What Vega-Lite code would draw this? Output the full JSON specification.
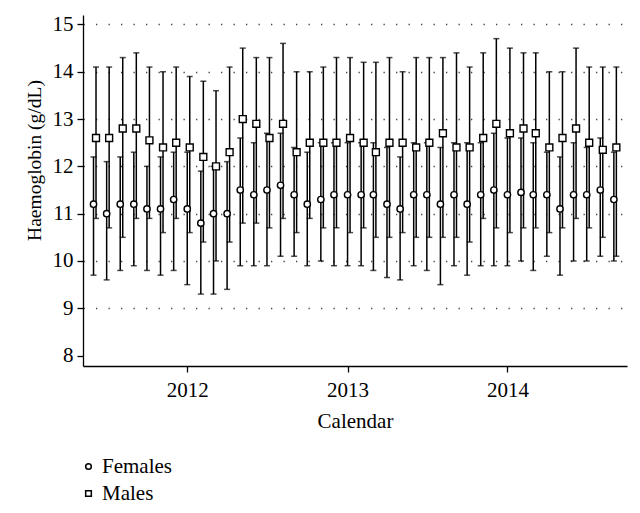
{
  "$schema": "https://vega.github.io/schema/vega-lite/v6.json",
  "width": 544,
  "height": 351,
  "autosize": "none",
  "padding": {"left": 83, "top": 15, "right": 13, "bottom": 147},
  "background": "white",
  "config": {
    "view": {"stroke": null},
    "font": "Liberation Serif",
    "axis": {
      "labelFont": "Liberation Serif",
      "titleFont": "Liberation Serif",
      "labelColor": "black",
      "titleColor": "black",
      "domainColor": "black",
      "tickColor": "black",
      "domainWidth": 1.3,
      "tickWidth": 1.3,
      "tickSize": 6,
      "labelFontSize": 21,
      "titleFontSize": 21,
      "titleFontWeight": "normal"
    },
    "legend": {
      "labelFont": "Liberation Serif",
      "labelFontSize": 21,
      "labelColor": "black"
    }
  },
  "data": {
    "values": [
      {"date": "2011-06-01", "sex": "Females", "mean": 11.2, "lo": 9.7, "hi": 12.2},
      {"date": "2011-07-01", "sex": "Females", "mean": 11.0, "lo": 9.6, "hi": 12.1},
      {"date": "2011-08-01", "sex": "Females", "mean": 11.2, "lo": 9.8, "hi": 12.2},
      {"date": "2011-09-01", "sex": "Females", "mean": 11.2, "lo": 9.9, "hi": 12.3},
      {"date": "2011-10-01", "sex": "Females", "mean": 11.1, "lo": 9.8, "hi": 12.0},
      {"date": "2011-11-01", "sex": "Females", "mean": 11.1, "lo": 9.7, "hi": 12.2},
      {"date": "2011-12-01", "sex": "Females", "mean": 11.3, "lo": 9.8, "hi": 12.3},
      {"date": "2012-01-01", "sex": "Females", "mean": 11.1, "lo": 9.5, "hi": 12.3},
      {"date": "2012-02-01", "sex": "Females", "mean": 10.8, "lo": 9.3, "hi": 11.9},
      {"date": "2012-03-01", "sex": "Females", "mean": 11.0, "lo": 9.3, "hi": 12.0},
      {"date": "2012-04-01", "sex": "Females", "mean": 11.0, "lo": 9.4, "hi": 12.1},
      {"date": "2012-05-01", "sex": "Females", "mean": 11.5, "lo": 9.9, "hi": 12.6},
      {"date": "2012-06-01", "sex": "Females", "mean": 11.4, "lo": 9.9, "hi": 12.5},
      {"date": "2012-07-01", "sex": "Females", "mean": 11.5, "lo": 9.9, "hi": 12.7},
      {"date": "2012-08-01", "sex": "Females", "mean": 11.6, "lo": 10.1, "hi": 12.7},
      {"date": "2012-09-01", "sex": "Females", "mean": 11.4, "lo": 10.1, "hi": 12.4},
      {"date": "2012-10-01", "sex": "Females", "mean": 11.2, "lo": 9.9, "hi": 12.3},
      {"date": "2012-11-01", "sex": "Females", "mean": 11.3, "lo": 10.0, "hi": 12.5},
      {"date": "2012-12-01", "sex": "Females", "mean": 11.4, "lo": 9.9, "hi": 12.5},
      {"date": "2013-01-01", "sex": "Females", "mean": 11.4, "lo": 9.9, "hi": 12.5},
      {"date": "2013-02-01", "sex": "Females", "mean": 11.4, "lo": 9.9, "hi": 12.5},
      {"date": "2013-03-01", "sex": "Females", "mean": 11.4, "lo": 9.8, "hi": 12.5},
      {"date": "2013-04-01", "sex": "Females", "mean": 11.2, "lo": 9.65, "hi": 12.4},
      {"date": "2013-05-01", "sex": "Females", "mean": 11.1, "lo": 9.6, "hi": 12.2},
      {"date": "2013-06-01", "sex": "Females", "mean": 11.4, "lo": 9.9, "hi": 12.5},
      {"date": "2013-07-01", "sex": "Females", "mean": 11.4, "lo": 9.8, "hi": 12.5},
      {"date": "2013-08-01", "sex": "Females", "mean": 11.2, "lo": 9.5, "hi": 12.4},
      {"date": "2013-09-01", "sex": "Females", "mean": 11.4, "lo": 9.9, "hi": 12.5},
      {"date": "2013-10-01", "sex": "Females", "mean": 11.2, "lo": 9.7, "hi": 12.5},
      {"date": "2013-11-01", "sex": "Females", "mean": 11.4, "lo": 9.9, "hi": 12.5},
      {"date": "2013-12-01", "sex": "Females", "mean": 11.5, "lo": 9.9, "hi": 12.7},
      {"date": "2014-01-01", "sex": "Females", "mean": 11.4, "lo": 9.9, "hi": 12.6},
      {"date": "2014-02-01", "sex": "Females", "mean": 11.45, "lo": 10.0, "hi": 12.6},
      {"date": "2014-03-01", "sex": "Females", "mean": 11.4, "lo": 9.8, "hi": 12.5},
      {"date": "2014-04-01", "sex": "Females", "mean": 11.4, "lo": 10.1, "hi": 12.3},
      {"date": "2014-05-01", "sex": "Females", "mean": 11.1, "lo": 9.7, "hi": 12.2},
      {"date": "2014-06-01", "sex": "Females", "mean": 11.4, "lo": 10.0, "hi": 12.5},
      {"date": "2014-07-01", "sex": "Females", "mean": 11.4, "lo": 10.0, "hi": 12.4},
      {"date": "2014-08-01", "sex": "Females", "mean": 11.5, "lo": 10.1, "hi": 12.6},
      {"date": "2014-09-01", "sex": "Females", "mean": 11.3, "lo": 10.0, "hi": 12.3},
      {"date": "2011-06-01", "sex": "Males", "mean": 12.6, "lo": 10.9, "hi": 14.1},
      {"date": "2011-07-01", "sex": "Males", "mean": 12.6, "lo": 10.7, "hi": 14.1},
      {"date": "2011-08-01", "sex": "Males", "mean": 12.8, "lo": 10.5, "hi": 14.3},
      {"date": "2011-09-01", "sex": "Males", "mean": 12.8, "lo": 10.9, "hi": 14.4},
      {"date": "2011-10-01", "sex": "Males", "mean": 12.55, "lo": 10.9, "hi": 14.1},
      {"date": "2011-11-01", "sex": "Males", "mean": 12.4, "lo": 10.6, "hi": 14.0},
      {"date": "2011-12-01", "sex": "Males", "mean": 12.5, "lo": 10.9, "hi": 14.1},
      {"date": "2012-01-01", "sex": "Males", "mean": 12.4, "lo": 10.6, "hi": 13.9},
      {"date": "2012-02-01", "sex": "Males", "mean": 12.2, "lo": 10.4, "hi": 13.8},
      {"date": "2012-03-01", "sex": "Males", "mean": 12.0, "lo": 10.0, "hi": 13.6},
      {"date": "2012-04-01", "sex": "Males", "mean": 12.3, "lo": 10.4, "hi": 14.1},
      {"date": "2012-05-01", "sex": "Males", "mean": 13.0, "lo": 10.8, "hi": 14.5},
      {"date": "2012-06-01", "sex": "Males", "mean": 12.9, "lo": 10.8, "hi": 14.3},
      {"date": "2012-07-01", "sex": "Males", "mean": 12.6, "lo": 10.7, "hi": 14.3},
      {"date": "2012-08-01", "sex": "Males", "mean": 12.9, "lo": 10.9, "hi": 14.6},
      {"date": "2012-09-01", "sex": "Males", "mean": 12.3, "lo": 10.6, "hi": 14.0},
      {"date": "2012-10-01", "sex": "Males", "mean": 12.5, "lo": 10.9, "hi": 14.0},
      {"date": "2012-11-01", "sex": "Males", "mean": 12.5, "lo": 10.7, "hi": 14.1},
      {"date": "2012-12-01", "sex": "Males", "mean": 12.5, "lo": 10.7, "hi": 14.3},
      {"date": "2013-01-01", "sex": "Males", "mean": 12.6, "lo": 10.6, "hi": 14.3},
      {"date": "2013-02-01", "sex": "Males", "mean": 12.5, "lo": 10.7, "hi": 14.2},
      {"date": "2013-03-01", "sex": "Males", "mean": 12.3, "lo": 10.5, "hi": 14.2},
      {"date": "2013-04-01", "sex": "Males", "mean": 12.5, "lo": 10.5, "hi": 14.3},
      {"date": "2013-05-01", "sex": "Males", "mean": 12.5, "lo": 10.6, "hi": 14.0},
      {"date": "2013-06-01", "sex": "Males", "mean": 12.4, "lo": 10.5, "hi": 14.3},
      {"date": "2013-07-01", "sex": "Males", "mean": 12.5, "lo": 10.5, "hi": 14.3},
      {"date": "2013-08-01", "sex": "Males", "mean": 12.7, "lo": 10.5, "hi": 14.3},
      {"date": "2013-09-01", "sex": "Males", "mean": 12.4, "lo": 10.5, "hi": 14.4},
      {"date": "2013-10-01", "sex": "Males", "mean": 12.4, "lo": 10.4, "hi": 14.1},
      {"date": "2013-11-01", "sex": "Males", "mean": 12.6, "lo": 10.9, "hi": 14.4},
      {"date": "2013-12-01", "sex": "Males", "mean": 12.9, "lo": 10.7, "hi": 14.7},
      {"date": "2014-01-01", "sex": "Males", "mean": 12.7, "lo": 10.6, "hi": 14.5},
      {"date": "2014-02-01", "sex": "Males", "mean": 12.8, "lo": 10.7, "hi": 14.4},
      {"date": "2014-03-01", "sex": "Males", "mean": 12.7, "lo": 10.7, "hi": 14.4},
      {"date": "2014-04-01", "sex": "Males", "mean": 12.4, "lo": 10.6, "hi": 14.0},
      {"date": "2014-05-01", "sex": "Males", "mean": 12.6, "lo": 10.7, "hi": 14.0},
      {"date": "2014-06-01", "sex": "Males", "mean": 12.8, "lo": 10.9, "hi": 14.5},
      {"date": "2014-07-01", "sex": "Males", "mean": 12.5, "lo": 10.7, "hi": 14.1},
      {"date": "2014-08-01", "sex": "Males", "mean": 12.35, "lo": 10.5, "hi": 14.1},
      {"date": "2014-09-01", "sex": "Males", "mean": 12.4, "lo": 10.1, "hi": 14.1}
    ]
  },
  "encoding": {
    "x": {
      "field": "date",
      "type": "temporal",
      "scale": {
        "type": "utc",
        "domain": [
          {"year": 2011, "month": 5, "date": 8, "utc": true},
          {"year": 2014, "month": 10, "date": 1, "utc": true}
        ]
      },
      "axis": {
        "title": "Calendar",
        "values": [
          {"year": 2012, "month": 1, "date": 1, "utc": true},
          {"year": 2013, "month": 1, "date": 1, "utc": true},
          {"year": 2014, "month": 1, "date": 1, "utc": true}
        ],
        "format": "%Y",
        "grid": false,
        "labelPadding": 7,
        "titlePadding": 10
      }
    }
  },
  "layer": [
    {
      "transform": [{"filter": "datum.sex === 'Females'"}],
      "mark": {"type": "rule", "color": "black", "strokeWidth": 1.5},
      "encoding": {
        "y": {
          "field": "lo",
          "type": "quantitative",
          "scale": {"domain": [7.78, 15.2], "nice": false, "zero": false},
          "axis": {
            "title": "Haemoglobin (g/dL)",
            "titleFontSize": 19.5,
            "titleY": 145,
            "values": [8, 9, 10, 11, 12, 13, 14, 15],
            "labelPadding": 4,
            "titlePadding": 8,
            "grid": true,
            "gridColor": "#444",
            "gridWidth": 1.3,
            "gridDash": [1.3, 11.2],
            "gridOpacity": {"condition": {"test": "datum.value === 8", "value": 0}, "value": 1}
          }
        },
        "y2": {"field": "hi"}
      }
    },
    {
      "transform": [{"filter": "datum.sex === 'Males'"}],
      "mark": {"type": "rule", "color": "black", "strokeWidth": 1.5, "xOffset": 2.5},
      "encoding": {"y": {"field": "lo", "type": "quantitative"}, "y2": {"field": "hi"}}
    },
    {
      "transform": [{"filter": "datum.sex === 'Females'"}],
      "mark": {"type": "tick", "color": "black", "orient": "horizontal", "size": 6, "thickness": 1.5},
      "encoding": {"y": {"field": "lo", "type": "quantitative"}}
    },
    {
      "transform": [{"filter": "datum.sex === 'Females'"}],
      "mark": {"type": "tick", "color": "black", "orient": "horizontal", "size": 6, "thickness": 1.5},
      "encoding": {"y": {"field": "hi", "type": "quantitative"}}
    },
    {
      "transform": [{"filter": "datum.sex === 'Males'"}],
      "mark": {"type": "tick", "color": "black", "orient": "horizontal", "size": 6, "thickness": 1.5, "xOffset": 2.5},
      "encoding": {"y": {"field": "lo", "type": "quantitative"}}
    },
    {
      "transform": [{"filter": "datum.sex === 'Males'"}],
      "mark": {"type": "tick", "color": "black", "orient": "horizontal", "size": 6, "thickness": 1.5, "xOffset": 2.5},
      "encoding": {"y": {"field": "hi", "type": "quantitative"}}
    },
    {
      "transform": [{"filter": "datum.sex === 'Females'"}],
      "mark": {"type": "point", "filled": false, "fill": "white", "fillOpacity": 1, "stroke": "black", "strokeWidth": 1.4, "opacity": 1, "size": 40},
      "encoding": {
        "y": {"field": "mean", "type": "quantitative"},
        "shape": {
          "field": "sex",
          "type": "nominal",
          "scale": {"domain": ["Females", "Males"], "range": ["circle", "square"]},
          "legend": {
            "title": null,
            "orient": "none",
            "legendX": -5,
            "legendY": 441,
            "padding": 0,
            "symbolSize": 32,
            "labelOffset": 3,
            "rowPadding": 5,
            "encode": {
              "symbols": {
                "update": {
                  "stroke": {"value": "black"},
                  "fill": {"value": "white"},
                  "strokeWidth": {"value": 1.3},
                  "opacity": {"value": 1},
                  "fillOpacity": {"value": 1},
                  "strokeOpacity": {"value": 1}
                }
              }
            }
          }
        }
      }
    },
    {
      "transform": [{"filter": "datum.sex === 'Males'"}],
      "mark": {"type": "point", "filled": false, "fill": "white", "fillOpacity": 1, "stroke": "black", "strokeWidth": 1.4, "opacity": 1, "size": 48, "xOffset": 2.5},
      "encoding": {
        "y": {"field": "mean", "type": "quantitative"},
        "shape": {"field": "sex", "type": "nominal"}
      }
    }
  ]
}
